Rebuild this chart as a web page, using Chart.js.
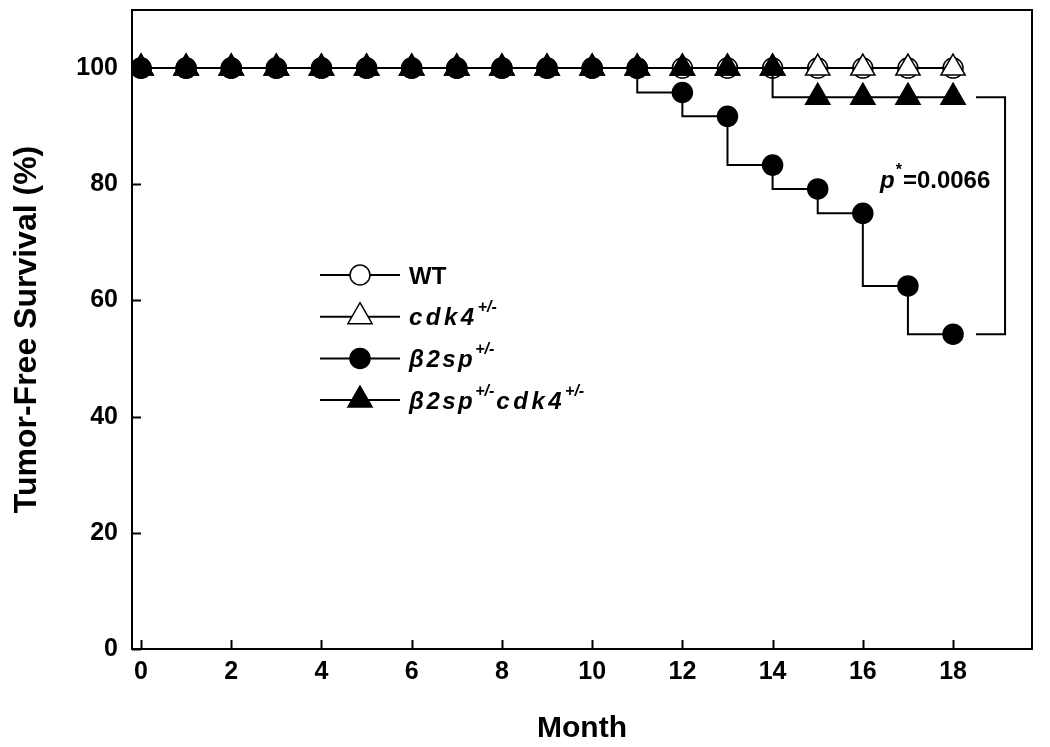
<!DOCTYPE html>
<html>
<head>
<meta charset="utf-8">
<title>Tumor-Free Survival</title>
<script src="https://cdn.jsdelivr.net/npm/chart.js@4.4.1/dist/chart.umd.min.js"></script>
<style>
  html, body { margin: 0; padding: 0; background: #fff; }
  #wrap { width: 1050px; height: 747px; }
</style>
</head>
<body>
<div id="wrap"><canvas id="survivalChart" width="1050" height="747"></canvas></div>
<script>
// Data, month 0..18
const months = [0,1,2,3,4,5,6,7,8,9,10,11,12,13,14,15,16,17,18];
const wtValues =      [100,100,100,100,100,100,100,100,100,100,100,100,100,100,100,100,100,100,100];
const cdk4Values =    [100,100,100,100,100,100,100,100,100,100,100,100,100,100,100,100,100,100,100];
const b2spValues =    [100,100,100,100,100,100,100,100,100,100,100,100,95.8,91.7,83.3,79.2,75,62.5,54.2];
const b2spCdk4Values =[100,100,100,100,100,100,100,100,100,100,100,100,100,100,100,95,95,95,95];
const xTicks = [0,2,4,6,8,10,12,14,16,18];
const yTicks = [0,20,40,60,80,100];
const pValueText = "0.0066";

const FONT = '"Liberation Sans", Arial, sans-serif';

function toPoints(vals) {
  return months.map((m, i) => ({ x: m, y: vals[i] }));
}

// draw text char by char so italic gene names get the wider spacing of the original
function drawSpaced(ctx, text, x, y, spacing) {
  let cx = x;
  for (const ch of text) {
    ctx.fillText(ch, cx, y);
    cx += ctx.measureText(ch).width + spacing;
  }
  return cx;
}

// parts = [{t, italic, sup, sp, gap}]
function drawRich(ctx, parts, x, y, size) {
  let cx = x;
  parts.forEach(p => {
    const s = p.sup ? Math.round(size * 0.68) : size;
    ctx.font = `${p.italic ? 'italic ' : ''}bold ${s}px ${FONT}`;
    cx = drawSpaced(ctx, p.t, cx, p.sup ? y - size * 0.45 : y, p.sp || 0) + (p.gap || 0);
  });
  return cx;
}

function drawMarker(ctx, style, fill, x, y) {
  ctx.save();
  ctx.fillStyle = fill;
  ctx.strokeStyle = '#000';
  ctx.lineWidth = 1.5;
  if (style === 'circle') {
    ctx.beginPath();
    ctx.arc(x, y, 10, 0, Math.PI * 2);
  } else {
    const r = 14;
    ctx.beginPath();
    ctx.moveTo(x, y - r);
    ctx.lineTo(x + r * Math.sin(2 * Math.PI / 3), y - r * Math.cos(2 * Math.PI / 3));
    ctx.lineTo(x + r * Math.sin(4 * Math.PI / 3), y - r * Math.cos(4 * Math.PI / 3));
    ctx.closePath();
  }
  ctx.fill();
  ctx.stroke();
  ctx.restore();
}

const SP = 3.5;
const legendItems = [
  { style: 'circle', fill: '#fff', parts: [{ t: 'WT' }] },
  { style: 'triangle', fill: '#fff', parts: [{ t: 'cdk4', italic: true, sp: SP }, { t: '+/-', italic: true, sup: true }] },
  { style: 'circle', fill: '#000', parts: [{ t: 'β2sp', italic: true, sp: SP - 1 }, { t: '+/-', italic: true, sup: true }] },
  { style: 'triangle', fill: '#000', parts: [{ t: 'β2sp', italic: true, sp: SP - 1 }, { t: '+/-', italic: true, sup: true, gap: 2 }, { t: 'cdk4', italic: true, sp: SP }, { t: '+/-', italic: true, sup: true }] }
];

// frame, inward ticks, legend, p-value bracket
const decorPlugin = {
  id: 'decor',
  afterDraw(chart) {
    const ctx = chart.ctx;
    const a = chart.chartArea;
    const xs = chart.scales.x, ys = chart.scales.y;
    ctx.save();
    ctx.strokeStyle = '#000';
    ctx.lineWidth = 2;
    ctx.strokeRect(a.left, a.top, a.right - a.left, a.bottom - a.top);

    // inward ticks
    ctx.beginPath();
    xTicks.forEach(v => {
      const px = Math.round(xs.getPixelForValue(v)) + 0.5;
      ctx.moveTo(px, a.bottom); ctx.lineTo(px, a.bottom - 9);
    });
    yTicks.forEach(v => {
      const py = Math.round(ys.getPixelForValue(v)) + 0.5;
      ctx.moveTo(a.left, py); ctx.lineTo(a.left + 9, py);
    });
    ctx.stroke();

    // legend
    const lx0 = 320, lx1 = 400, ly0 = 275, dy = 41.7;
    ctx.fillStyle = '#000';
    ctx.textBaseline = 'middle';
    ctx.textAlign = 'left';
    legendItems.forEach((it, i) => {
      const ly = ly0 + i * dy;
      ctx.beginPath();
      ctx.moveTo(lx0, ly); ctx.lineTo(lx1, ly);
      ctx.stroke();
      drawMarker(ctx, it.style, it.fill, (lx0 + lx1) / 2, ly);
      ctx.fillStyle = '#000';
      drawRich(ctx, it.parts, 409, ly + 2, 24);
    });

    // bracket between the two lowest curves at month 18
    const last = months.length - 1;
    const bx = xs.getPixelForValue(months[last]);
    const yTop = ys.getPixelForValue(b2spCdk4Values[last]);
    const yBot = ys.getPixelForValue(b2spValues[last]);
    ctx.beginPath();
    ctx.moveTo(bx + 23, yTop); ctx.lineTo(bx + 52, yTop);
    ctx.lineTo(bx + 52, yBot); ctx.lineTo(bx + 23, yBot);
    ctx.stroke();

    drawRich(ctx, [{ t: 'p', italic: true, gap: 1 }, { t: '*', sup: true, gap: 1 }, { t: '=' + pValueText }], 880, 181, 24);
    ctx.restore();
  }
};

const common = {
  borderColor: '#000',
  borderWidth: 2,
  stepped: 'after',
  pointBorderColor: '#000',
  pointBorderWidth: 1.5,
  pointHoverRadius: 0,
  fill: false
};

new Chart(document.getElementById('survivalChart'), {
  type: 'line',
  data: {
    datasets: [
      Object.assign({}, common, { label: 'WT', data: toPoints(wtValues), pointStyle: 'circle', pointRadius: 10, pointBackgroundColor: '#fff', order: 3 }),
      Object.assign({}, common, { label: 'cdk4+/-', data: toPoints(cdk4Values), pointStyle: 'triangle', pointRadius: 14, pointBackgroundColor: '#fff', order: 1 }),
      Object.assign({}, common, { label: 'β2sp+/-', data: toPoints(b2spValues), pointStyle: 'circle', pointRadius: 10, pointBackgroundColor: '#000', order: 2 }),
      Object.assign({}, common, { label: 'β2sp+/-cdk4+/-', data: toPoints(b2spCdk4Values), pointStyle: 'triangle', pointRadius: 14, pointBackgroundColor: '#000', order: 0 })
    ]
  },
  options: {
    responsive: false,
    animation: false,
    layout: { autoPadding: false, padding: { top: 10, right: 18, left: 0, bottom: 0 } },
    plugins: { legend: { display: false }, tooltip: { enabled: false } },
    scales: {
      x: {
        type: 'linear',
        min: -0.2,
        max: 19.75,
        afterBuildTicks: s => { s.ticks = xTicks.map(v => ({ value: v })); },
        afterFit: s => { s.height = 98; s.paddingLeft = 0; s.paddingRight = 0; },
        grid: { display: false },
        border: { display: false },
        ticks: { color: '#000', padding: 0, maxRotation: 0, font: { family: FONT, size: 25, weight: 'bold' } },
        title: { display: true, text: 'Month', color: '#000', padding: { top: 0, bottom: 0 }, font: { family: FONT, size: 30, weight: 'bold' } }
      },
      y: {
        min: 0,
        max: 110,
        afterBuildTicks: s => { s.ticks = yTicks.map(v => ({ value: v })); },
        afterFit: s => { s.width = 132; s.paddingTop = 0; s.paddingBottom = 0; },
        grid: { display: false },
        border: { display: false },
        ticks: { color: '#000', padding: 6, font: { family: FONT, size: 25, weight: 'bold' } },
        title: { display: true, text: 'Tumor-Free Survival (%)', color: '#000', padding: { top: 8, bottom: 0 }, font: { family: FONT, size: 32, weight: 'bold' } }
      }
    }
  },
  plugins: [decorPlugin]
});
</script>
</body>
</html>
